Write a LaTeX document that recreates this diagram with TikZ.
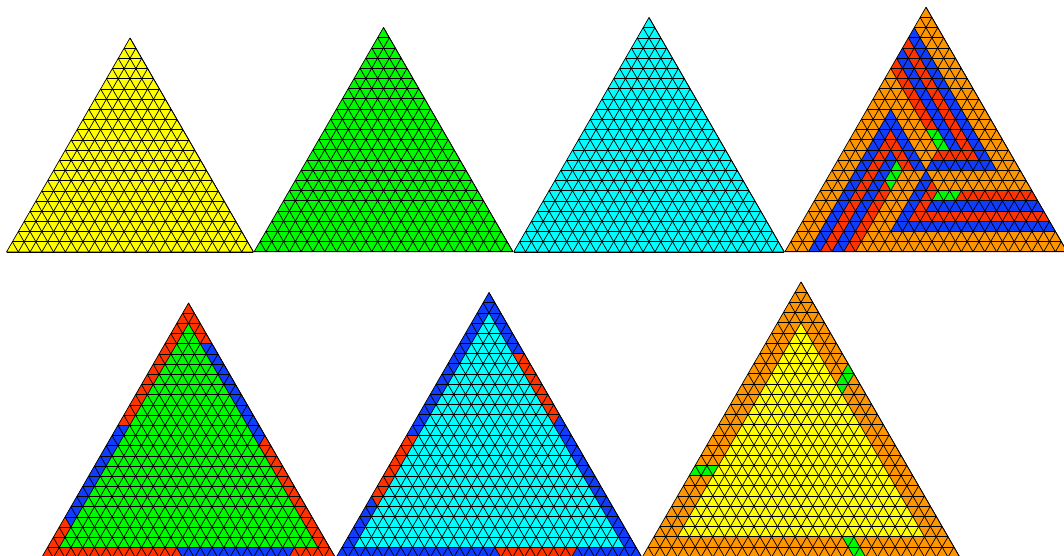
\documentclass[tikz,border=0pt]{standalone}
\usepackage{xcolor}
\definecolor{triyellow}{RGB}{255,255,0}
\definecolor{trigreen}{RGB}{0,250,0}
\definecolor{tricyan}{RGB}{0,255,255}
\definecolor{triorange}{RGB}{255,150,0}
\definecolor{trired}{RGB}{255,50,0}
\definecolor{triblue}{RGB}{15,60,255}
\tikzset{
  lattice/.style={x={(11.76pt,0pt)},y={(-5.88pt,-10.19pt)}},
  gridline/.style={black,line width=0.7pt,line join=round}
}
% filled triangle with n rows; vertex (j,i) is j-th point on i-th line below the top
\newcommand{\trifill}[2]{\fill[#2] (0,0) -- (0,#1) -- (#1,#1) -- cycle;}
\newcommand{\trigrid}[1]{%
  \foreach \k in {1,...,#1} {
    \draw[gridline] (0,\k) -- (\k,\k);
    \pgfmathtruncatemacro{\m}{#1-\k}
    \draw[gridline] (\k,\k) -- (\k,#1);
    \draw[gridline] (0,\m) -- (\k,#1);
  }
  \draw[gridline] (0,0) -- (0,#1) -- (#1,#1) -- cycle;
}
\begin{document}
\begin{tikzpicture}
  \useasboundingbox (0pt,0pt) rectangle (1064pt,-555pt);
  \clip (0pt,0pt) rectangle (1064pt,-555pt);
  % top row
  \begin{scope}[lattice,shift={(130pt,-38pt)}]
    \trifill{21}{triyellow}
    \trigrid{21}
  \end{scope}
  \begin{scope}[lattice,shift={(383.5pt,-27.5pt)}]
    \trifill{22}{trigreen}
    \trigrid{22}
  \end{scope}
  \begin{scope}[lattice,shift={(649pt,-17.5pt)}]
    \trifill{23}{tricyan}
    \trigrid{23}
  \end{scope}
  \begin{scope}[lattice,shift={(926pt,-7.2pt)}]
    \trifill{24}{triorange}
    \foreach \ang in {0,120,240} {
      \begin{scope}[rotate around={\ang:(8,16)}]
        \fill[triblue] (0,2) -- (14,16) -- (8,16) -- (8,15) -- (12,15) -- (0,3) -- cycle;
        \fill[trired] (0,3) -- (12,15) -- (8,15) -- (8,14) -- (10,14) -- (0,4) -- cycle;
        \fill[triblue] (0,4) -- (10,14) -- (9,14) -- (0,5) -- cycle;
        \fill[trired] (0,5) -- (7,12) -- (6,12) -- (0,6) -- cycle;
        \fill[trigreen] (6,12) -- (7,12) -- (9,14) -- (8,14) -- cycle;
      \end{scope}
    }
    \trigrid{24}
  \end{scope}
  % bottom row
  \begin{scope}[lattice,shift={(188.5pt,-303pt)}]
    \trifill{25}{trired}
    \fill[triblue] (3,4) -- (4,4) -- (13,13) -- (13,14) -- cycle;
    \fill[triblue] (0,12) -- (1,12) -- (1,22) -- (0,21) -- cycle;
    \fill[triblue] (11,24) -- (21,24) -- (21,25) -- (12,25) -- cycle;
    \fill[trigreen] (1,2) -- (1,24) -- (23,24) -- cycle;
    \trigrid{25}
  \end{scope}
  \begin{scope}[lattice,shift={(489pt,-292.5pt)}]
    \trifill{26}{triblue}
    \fill[trired] (5,6) -- (6,6) -- (12,12) -- (12,13) -- cycle;
    \fill[trired] (0,14) -- (1,14) -- (1,21) -- (0,20) -- cycle;
    \fill[trired] (13,25) -- (20,25) -- (20,26) -- (14,26) -- cycle;
    \fill[tricyan] (1,2) -- (1,25) -- (24,25) -- cycle;
    \trigrid{26}
  \end{scope}
  \begin{scope}[lattice,shift={(801pt,-282pt)}]
    \trifill{27}{triorange}
    \fill[triyellow] (2,4) -- (2,25) -- (23,25) -- cycle;
    \fill[trigreen] (8,8) -- (9,9) -- (9,11) -- (8,10) -- cycle;
    \fill[trigreen] (0,18) -- (2,18) -- (2,19) -- (0,19) -- cycle;
    \fill[trigreen] (16,25) -- (17,25) -- (19,27) -- (18,27) -- cycle;
    \trigrid{27}
  \end{scope}
\end{tikzpicture}
\end{document}
